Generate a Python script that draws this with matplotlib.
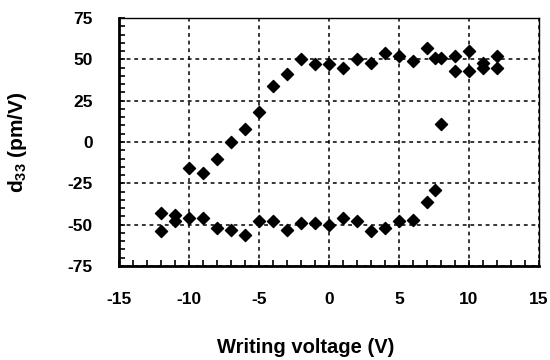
import matplotlib
matplotlib.use('Agg')
import matplotlib.pyplot as plt
from matplotlib.ticker import MultipleLocator

plt.rcParams['font.family'] = ['Liberation Sans', 'DejaVu Sans']
plt.rcParams['font.weight'] = 'bold'
plt.rcParams['axes.unicode_minus'] = False
plt.rcParams['mathtext.fontset'] = 'custom'
plt.rcParams['mathtext.bf'] = 'Liberation Sans:bold'
plt.rcParams['mathtext.default'] = 'bf'

# upper branch (positive d33)
x_up = [-10, -9, -8, -7, -6, -5, -4, -3, -2, -1, 0, 1, 2, 3, 4, 5, 6, 7, 7.6, 8, 9, 10, 11, 12,
        8, 9, 10, 11, 12]
y_up = [-16, -19, -10, 0, 8, 18, 34, 41, 50, 47, 47, 45, 50, 48, 54, 52, 49, 57, 51, 51, 52, 55, 48, 52,
        11, 43, 43, 45, 45]

# lower branch (negative d33)
x_low = [-12, -12, -11, -11, -10, -9, -8, -7, -6, -5, -4, -3, -2, -1, 0, 1, 2, 3, 4, 5, 6, 7, 7.6]
y_low = [-43, -54, -44, -48, -46, -46, -52, -53, -56, -48, -48, -53, -49, -49, -50, -46, -48, -54, -52,
         -48, -47, -36, -29]

fig = plt.figure(figsize=(5.5, 3.6), dpi=100)
ax = fig.add_axes([119 / 550, 1 - 266 / 360, 420 / 550, 248 / 360])

ax.scatter(x_up, y_up, marker='D', s=38, color='black', zorder=3)
ax.scatter(x_low, y_low, marker='D', s=38, color='black', zorder=3)

ax.set_xlim(-15, 15)
ax.set_ylim(-75, 75)
ax.xaxis.set_major_locator(MultipleLocator(5))
ax.yaxis.set_major_locator(MultipleLocator(25))
ax.xaxis.set_minor_locator(MultipleLocator(1))
ax.yaxis.set_minor_locator(MultipleLocator(5))

ax.grid(True, which='major', color='black', linestyle=(0, (2.5, 2.5)), linewidth=1.1)
ax.tick_params(which='both', direction='in', top=False, right=False, length=4, width=1.2,
               labelsize=12.5, pad=19)

ax.spines['left'].set_linewidth(2)
ax.spines['bottom'].set_linewidth(2)
ax.spines['top'].set_linewidth(1)
ax.spines['right'].set_linewidth(1)

for lab in ax.get_xticklabels() + ax.get_yticklabels():
    lab.set_fontweight('bold')

ax.set_xlabel('Writing voltage (V)', fontsize=14.5, fontweight='bold')
ax.set_ylabel(r'd$_{33}$ (pm/V)', fontsize=15, fontweight='bold')
ax.xaxis.set_label_coords(0.445, -0.29)
ax.yaxis.set_label_coords(-0.215, 0.5)

fig.savefig('out.png', dpi=100)
